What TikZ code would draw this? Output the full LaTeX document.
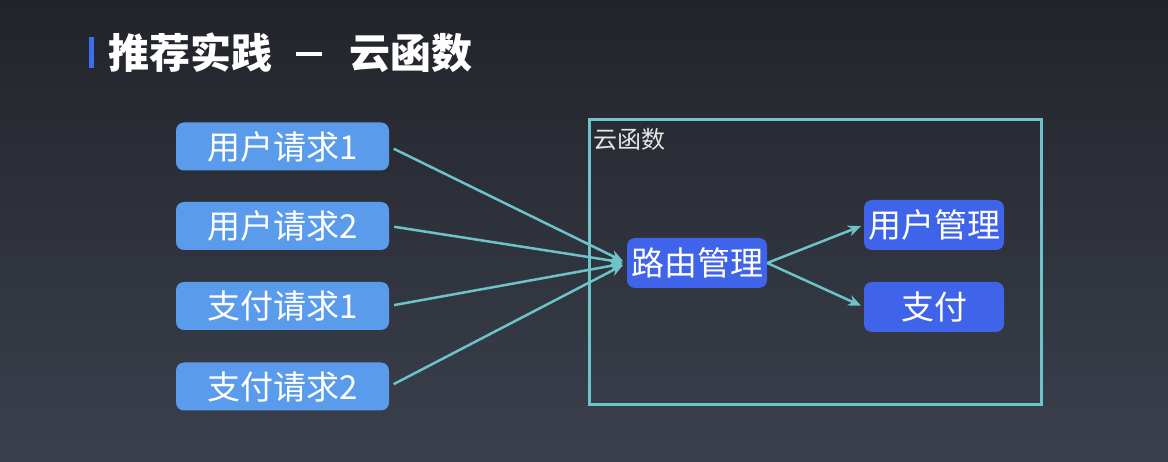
\documentclass[tikz,border=0pt]{standalone}
\usepackage{fontspec}
\setmainfont{Noto Sans CJK SC}
\usetikzlibrary{arrows.meta}
\definecolor{bgtop}{HTML}{22242A}
\definecolor{bgbot}{HTML}{3B404D}
\definecolor{lightblue}{HTML}{5A9BEC}
\definecolor{royal}{HTML}{3F64E9}
\definecolor{cyanline}{HTML}{6CC3CA}
\definecolor{titlebar}{HTML}{3D6EF0}
\definecolor{labelgray}{HTML}{E6E6E6}
\tikzset{
  reqbox/.style={fill=lightblue, rounded corners=8pt, minimum width=213pt, minimum height=48pt, inner sep=0pt, text=white, font=\fontsize{33}{33}\selectfont},
  fnbox/.style={fill=royal, rounded corners=8pt, minimum width=140pt, minimum height=50pt, inner sep=0pt, text=white, font=\fontsize{33}{33}\selectfont},
  conn/.style={draw=cyanline, line width=2.5pt, -{Stealth[length=13pt,width=11pt]}},
}
\begin{document}
\begin{tikzpicture}[x=1pt,y=-1pt]
\shade[top color=bgtop, bottom color=bgbot] (0,0) rectangle (1168,462);
\useasboundingbox (0,0) rectangle (1168,462);
% title
\fill[titlebar] (89,37) rectangle (94,68);
\node[anchor=west, inner sep=0pt, text=white, font=\fontsize{41}{41}\selectfont\bfseries] (title) at (108,53) {推荐实践\hspace{24pt}\rule[13pt]{26pt}{3.5pt}\hspace{27pt}云函数};
% frame
\node[draw=cyanline, line width=3pt, minimum width=452pt, minimum height=285pt, inner sep=0pt] (frame) at (815,262.5) {};
\node[anchor=north west, inner sep=0pt, text=labelgray, font=\fontsize{24}{24}\selectfont] (flabel) at (593,128) {云函数};
% request nodes
\node[reqbox] (u1) at (282.5,146.5) {用户请求1};
\node[reqbox] (u2) at (282.5,226) {用户请求2};
\node[reqbox] (p1) at (282.5,306) {支付请求1};
\node[reqbox] (p2) at (282.5,386.5) {支付请求2};
% function nodes
\node[fnbox] (r) at (697,263) {路由管理};
\node[fnbox] (um) at (934,225) {用户管理};
\node[fnbox] (pay) at (934,307) {支付};
% connectors
\foreach \s in {u1,u2,p1,p2}
  \draw[conn, shorten <=5pt, shorten >=4pt] (\s.east) -- (r.west);
\draw[conn, shorten >=3pt] (r.east) -- (um.west);
\draw[conn, shorten >=3pt] (r.east) -- (pay.west);
\end{tikzpicture}
\end{document}
